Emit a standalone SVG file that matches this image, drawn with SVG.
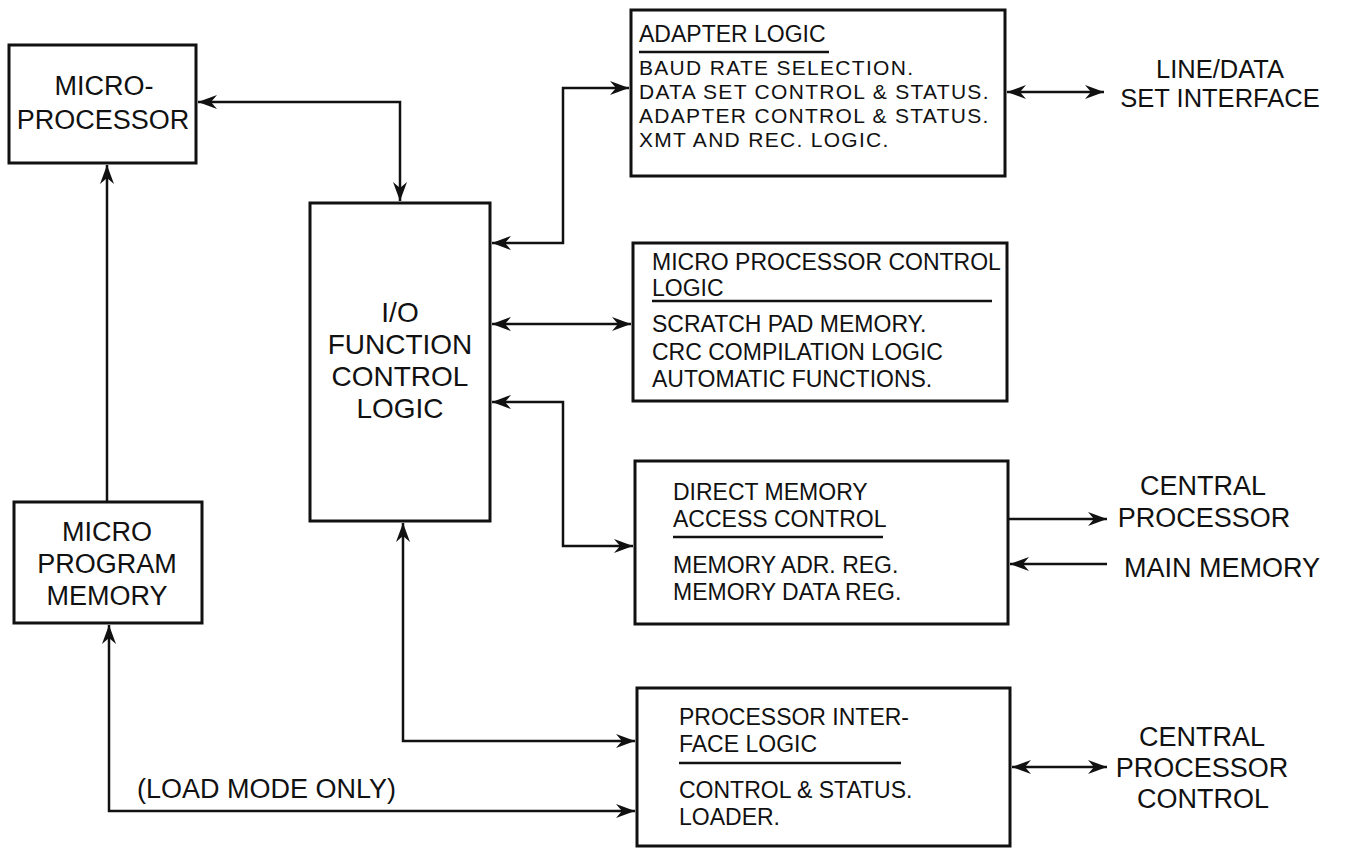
<svg xmlns="http://www.w3.org/2000/svg" width="1347" height="848" viewBox="0 0 1347 848">
<style>
.box{fill:#fff;stroke:#111;stroke-width:3}
.ln{fill:none;stroke:#111;stroke-width:2.5}
.ul{stroke:#111;stroke-width:2.5}
.big{font-family:"Liberation Sans",Arial,sans-serif;font-size:27px;fill:#111;text-anchor:middle}
.sm{font-family:"Liberation Sans",Arial,sans-serif;font-size:23px;fill:#111}
.tight{font-size:21px;letter-spacing:1.3px}
.lbl{font-family:"Liberation Sans",Arial,sans-serif;font-size:27px;fill:#111}
</style>
<defs>
<marker id="ah" viewBox="-20 -8 22 16" refX="0" refY="0" markerWidth="22" markerHeight="16" markerUnits="userSpaceOnUse" orient="auto-start-reverse">
<path d="M0,0 L-19,-7 L-13,0 L-19,7 Z" fill="#111"/>
</marker>
</defs>
<rect width="1347" height="848" fill="#fff"/>

<g id="connectors">
<path class="ln" d="M198,102 H400 V201" marker-start="url(#ah)" marker-end="url(#ah)"/>
<path class="ln" d="M107,502 V165" marker-end="url(#ah)"/>
<path class="ln" d="M109,625 V811 H635" marker-start="url(#ah)" marker-end="url(#ah)"/>
<path class="ln" d="M492,243 H563 V88 H629" marker-start="url(#ah)" marker-end="url(#ah)"/>
<path class="ln" d="M492,324 H631" marker-start="url(#ah)" marker-end="url(#ah)"/>
<path class="ln" d="M492,402 H563 V546 H633" marker-start="url(#ah)" marker-end="url(#ah)"/>
<path class="ln" d="M403,523 V741 H635" marker-start="url(#ah)" marker-end="url(#ah)"/>
<path class="ln" d="M1007,92 H1104" marker-start="url(#ah)" marker-end="url(#ah)"/>
<path class="ln" d="M1008,519 H1107" marker-end="url(#ah)"/>
<path class="ln" d="M1107,564 H1010" marker-end="url(#ah)"/>
<path class="ln" d="M1012,767 H1107" marker-start="url(#ah)" marker-end="url(#ah)"/>
</g>

<g id="microprocessor">
<rect class="box" x="9" y="45" width="187" height="118"/>
<text class="big" x="104" y="95">MICRO-</text>
<text class="big" x="103" y="129">PROCESSOR</text>
</g>

<g id="micro-program-memory">
<rect class="box" x="14" y="502" width="188" height="121"/>
<text class="big" x="107" y="541">MICRO</text>
<text class="big" x="107" y="573">PROGRAM</text>
<text class="big" x="107" y="605">MEMORY</text>
</g>

<g id="io-function-control-logic">
<rect class="box" x="310" y="203" width="180" height="318"/>
<text class="big" x="400" y="322" style="font-size:28px">I/O</text>
<text class="big" x="400" y="354" style="font-size:28px">FUNCTION</text>
<text class="big" x="400" y="386" style="font-size:28px">CONTROL</text>
<text class="big" x="400" y="418" style="font-size:28px">LOGIC</text>
</g>

<g id="adapter-logic">
<rect class="box" x="631" y="10" width="374" height="166"/>
<text class="sm" x="639" y="42">ADAPTER LOGIC</text>
<line class="ul" x1="639" y1="52" x2="829" y2="52"/>
<text class="sm tight" x="639" y="75">BAUD RATE SELECTION.</text>
<text class="sm tight" x="639" y="99">DATA SET CONTROL &amp; STATUS.</text>
<text class="sm tight" x="639" y="123">ADAPTER CONTROL &amp; STATUS.</text>
<text class="sm tight" x="639" y="147">XMT AND REC. LOGIC.</text>
</g>

<g id="micro-processor-control-logic">
<rect class="box" x="633" y="243" width="374" height="158"/>
<text class="sm" x="652" y="270">MICRO PROCESSOR CONTROL</text>
<text class="sm" x="652" y="296">LOGIC</text>
<line class="ul" x1="652" y1="301" x2="992" y2="301"/>
<text class="sm" x="652" y="332">SCRATCH PAD MEMORY.</text>
<text class="sm" x="652" y="360">CRC COMPILATION LOGIC</text>
<text class="sm" x="652" y="387">AUTOMATIC FUNCTIONS.</text>
</g>

<g id="direct-memory-access-control">
<rect class="box" x="635" y="461" width="373" height="163"/>
<text class="sm" x="673" y="500">DIRECT MEMORY</text>
<text class="sm" x="673" y="527">ACCESS CONTROL</text>
<line class="ul" x1="673" y1="537" x2="883" y2="537"/>
<text class="sm" x="673" y="573">MEMORY ADR. REG.</text>
<text class="sm" x="673" y="600">MEMORY DATA REG.</text>
</g>

<g id="processor-interface-logic">
<rect class="box" x="637" y="688" width="373" height="158"/>
<text class="sm" x="679" y="725">PROCESSOR INTER-</text>
<text class="sm" x="679" y="752">FACE LOGIC</text>
<line class="ul" x1="679" y1="763" x2="901" y2="763"/>
<text class="sm" x="679" y="798">CONTROL &amp; STATUS.</text>
<text class="sm" x="679" y="825">LOADER.</text>
</g>

<g id="line-data-set-interface">
<text class="big" x="1220" y="78" style="font-size:25.5px">LINE/DATA</text>
<text class="big" x="1220" y="107" style="font-size:25.5px">SET INTERFACE</text>
</g>

<g id="central-processor">
<text class="big" x="1203" y="495">CENTRAL</text>
<text class="big" x="1204" y="527">PROCESSOR</text>
</g>

<g id="main-memory">
<text class="big" x="1222" y="577">MAIN MEMORY</text>
</g>

<g id="central-processor-control">
<text class="big" x="1202" y="746">CENTRAL</text>
<text class="big" x="1202" y="777">PROCESSOR</text>
<text class="big" x="1203" y="808">CONTROL</text>
</g>

<g id="load-mode-label">
<text class="lbl" x="137" y="798">(LOAD MODE ONLY)</text>
</g>
</svg>
